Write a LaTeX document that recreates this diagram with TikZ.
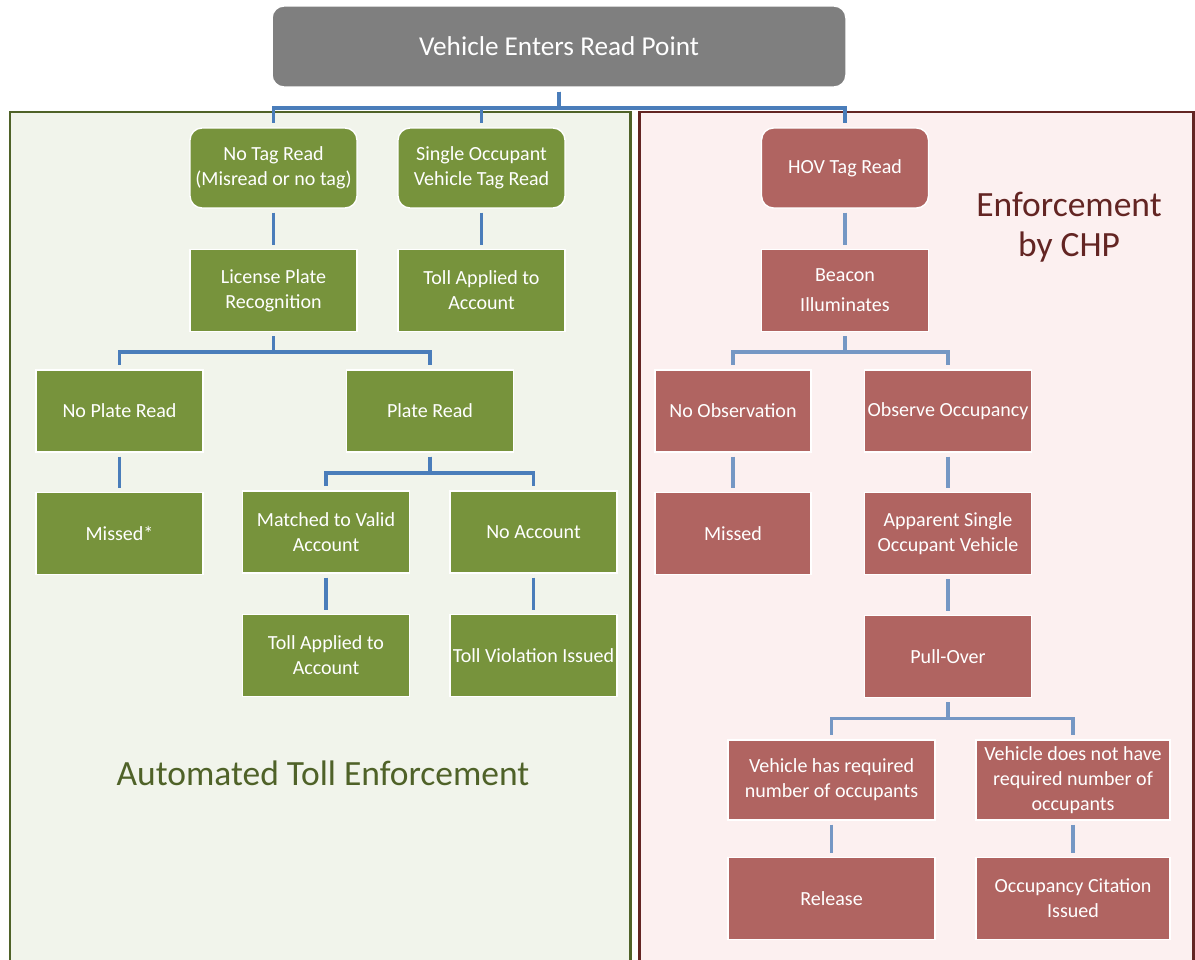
\documentclass[tikz,border=0pt]{standalone}
\usepackage{fontspec}
\setmainfont{Carlito}
\usepackage{tikz}
\usetikzlibrary{positioning}
\definecolor{tollgreen}{HTML}{77933C}
\definecolor{chpred}{HTML}{B06461}
\definecolor{greyhead}{HTML}{7F7F7F}
\definecolor{greenframe}{HTML}{4F6228}
\definecolor{greenback}{HTML}{F1F4EB}
\definecolor{redframe}{HTML}{632523}
\definecolor{redback}{HTML}{FCF0F0}
\definecolor{linkblue}{HTML}{4A7DBA}
\definecolor{linklight}{HTML}{7597C4}

\begin{document}
\begin{tikzpicture}[x=0.02cm, y=-0.02cm]
    \tikzstyle{box}=[rectangle, draw=white, line width=0.8pt, text=white, align=center, inner sep=0pt, font=\fontsize{11.4}{14.2}\selectfont, minimum width=3.34cm, minimum height=1.64cm]
    \tikzstyle{gbox}=[box, fill=tollgreen]
    \tikzstyle{rbox}=[box, fill=chpred]
    \tikzstyle{tagbox}=[rounded corners=0.24cm, minimum height=1.6cm]
    \tikzstyle{link}=[draw=linkblue, line width=2.1pt, shorten <=0.08cm, shorten >=0.08cm]
    \tikzstyle{linkr}=[link, draw=linklight]
    \tikzstyle{elbow}=[to path={-- ++(0,20) -| (\tikztotarget)}]
    \tikzstyle{title}=[font=\fontsize{20.2}{22.7}\selectfont, align=center]
      \useasboundingbox (0,0) rectangle (1195,959);
      \clip (0,0) rectangle (1195,959);
      \draw[draw=greenframe, fill=greenback, line width=1.7pt] (10,112) rectangle (630,980);
      \draw[draw=redframe, fill=redback, line width=1.7pt] (639,112) rectangle (1193,980);
      \node[title, text=greenframe] (ate) at (323,773) {Automated Toll Enforcement};
      \node[title, text=redframe] (chp) at (1069,227) {Enforcement\\by CHP};
      \node[box, fill=greyhead, rounded corners=0.24cm, minimum width=11.48cm, minimum height=1.62cm, font=\fontsize{15.5}{18}\selectfont] (enter) at (559,46.5) {Vehicle Enters Read Point};
      \node[gbox, tagbox] (notag) at (273.5,168) {No Tag Read\\(Misread or no tag)};
      \node[gbox, tagbox] (single) at (481.5,168) {Single Occupant\\Vehicle Tag Read};
      \node[rbox, tagbox] (hov) at (845,168) {HOV Tag Read};
      \node[gbox] (lpr) [below=0.8cm of notag] {License Plate\\Recognition};
      \node[gbox] (tollsov) [below=0.8cm of single] {Toll Applied to\\Account};
      \node[rbox] (beacon) [below=0.8cm of hov] {Beacon\\[3pt]Illuminates};
      \node[gbox] (noplate) at (119.5,411) {No Plate Read};
      \node[gbox] (plate) at (430,411) {Plate Read};
      \node[gbox] (missed) [below=0.78cm of noplate] {Missed*};
      \node[gbox] (matched) at (326,532) {Matched to Valid\\Account};
      \node[gbox] (noacct) at (533.5,532) {No Account};
      \node[gbox] (tollacc) [below=0.8cm of matched] {Toll Applied to\\Account};
      \node[gbox] (violation) [below=0.8cm of noacct] {Toll Violation Issued};
      \node[rbox, minimum width=3.12cm] (noobs) at (733,411) {No Observation};
      \node[rbox] (observe) at (948,411) {Observe Occupancy};
      \node[rbox, minimum width=3.12cm] (missedr) [below=0.78cm of noobs] {Missed};
      \node[rbox] (apparent) [below=0.78cm of observe] {Apparent Single\\Occupant Vehicle};
      \node[rbox] (pullover) [below=0.8cm of apparent] {Pull-Over};
      \node[rbox, minimum width=4.14cm, minimum height=1.6cm] (hasreq) at (831.5,780) {Vehicle has required\\number of occupants};
      \node[rbox, minimum width=3.88cm, minimum height=1.6cm] (hasnot) at (1073,780) {Vehicle does not have\\required number of\\occupants};
      \node[rbox, minimum width=4.14cm] (release) [below=0.72cm of hasreq] {Release};
      \node[rbox, minimum width=3.88cm] (citation) [below=0.72cm of hasnot] {Occupancy Citation\\Issued};
      \path
        (enter.south) edge [link, elbow] (notag.north)
        (enter.south) edge [link, elbow] (single.north)
        (enter.south) edge [link, elbow] (hov.north)
        (notag) edge [link] (lpr)
        (single) edge [link] (tollsov)
        (lpr.south) edge [link, elbow] (noplate.north)
        (lpr.south) edge [link, elbow] (plate.north)
        (noplate) edge [link] (missed)
        (plate.south) edge [link, elbow] (matched.north)
        (plate.south) edge [link, elbow] (noacct.north)
        (matched) edge [link] (tollacc)
        (noacct) edge [link] (violation)
        (hov) edge [linkr] (beacon)
        (beacon.south) edge [linkr, elbow] (noobs.north)
        (beacon.south) edge [linkr, elbow] (observe.north)
        (noobs) edge [linkr] (missedr)
        (observe) edge [linkr] (apparent)
        (apparent) edge [linkr] (pullover)
        (pullover.south) edge [linkr, elbow] (hasreq.north)
        (pullover.south) edge [linkr, elbow] (hasnot.north)
        (hasreq) edge [linkr] (release)
        (hasnot) edge [linkr] (citation);
    \end{tikzpicture}
\end{document}
